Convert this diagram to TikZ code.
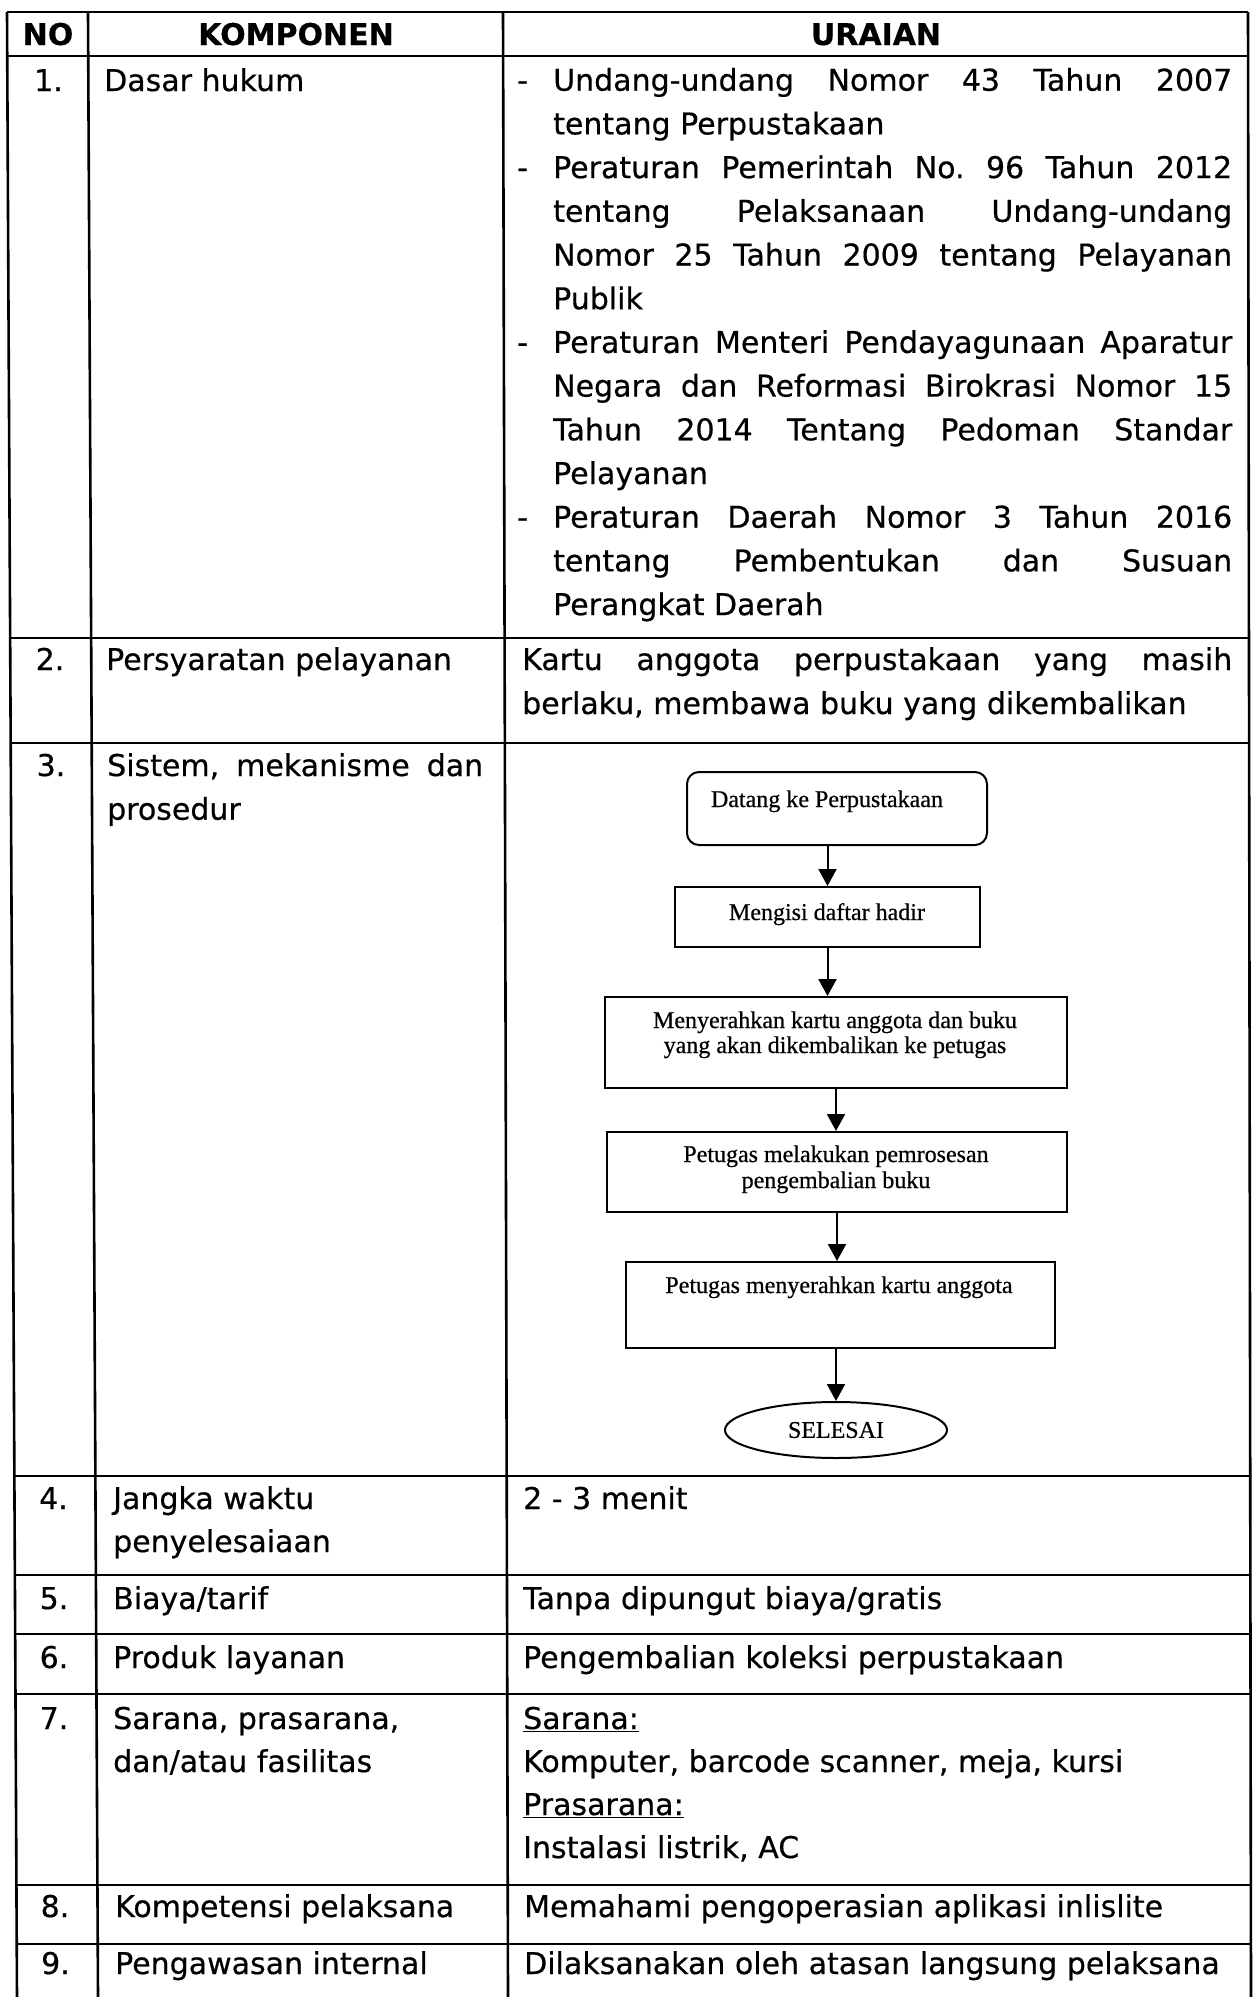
\documentclass[tikz,border=0pt]{standalone}
\usepackage{fontspec}
\setmainfont{DejaVu Sans}[FakeBold=0.5]
\newfontfamily\flowfont{Liberation Serif}[FakeBold=0.6]
\usetikzlibrary{arrows.meta,shapes.geometric,calc}

\newcommand{\cellfont}{\fontsize{30pt}{43.7pt}\selectfont}
\newcommand{\fillline}[1]{\makebox[679pt][s]{#1}}
\frenchspacing

\begin{document}
\begin{tikzpicture}[x=1pt, y=-1pt,
  tabline/.style={line width=2.6pt},
  txt/.style={inner sep=0pt, anchor=base west, font=\cellfont},
  num/.style={inner sep=0pt, anchor=base, font=\cellfont},
  hd/.style={inner sep=0pt, anchor=base, font=\cellfont\bfseries},
  flowbox/.style={draw, line width=2pt, inner sep=0pt},
  ftxt/.style={inner sep=0pt, anchor=base, font=\flowfont\fontsize{24pt}{26pt}\selectfont},
  arr/.style={line width=2pt, -{Triangle[width=18pt,length=17pt]}}]
  \useasboundingbox (0,0) rectangle (1258,1997);
  %table frame
  \coordinate (tl) at (7,12);
  \coordinate (bl) at (17,1997);
  \coordinate (c1t) at (88,12);
  \coordinate (c1b) at (98,1997);
  \coordinate (c2t) at (503,12);
  \coordinate (c2b) at (508,1997);
  \coordinate (tr) at (1248,12);
  \coordinate (br) at (1251,1997);
  \draw[tabline] (tl) -- (bl);
  \draw[tabline] (c1t) -- (c1b);
  \draw[tabline] (c2t) -- (c2b);
  \draw[tabline] (tr) -- (br);
  \foreach \y in {12,56,638,743,1476,1575,1634,1694,1885,1944}
  \draw[tabline] ($(tl)!{(\y-12)/1985}!(bl)$) -- ($(tr)!{(\y-12)/1985}!(br)$);
  %header
  \node[hd] (hno) at (48,45) {NO};
  \node[hd] (hkomp) at (296,45) {KOMPONEN};
  \node[hd] (hurai) at (876,45) {URAIAN};
  %row 1
  \node[num] (n1) at (48.5,91) {1.};
  \node[txt] (k1) at (104,91) {Dasar hukum};
  \foreach \i in {0,2,6,10}
  \node[txt] (d\i) at (517,90.7+43.7*\i) {-};
  \foreach \t [count=\i from 0] in {
    {\fillline{Undang-undang Nomor 43 Tahun 2007}},
    {tentang Perpustakaan},
    {\fillline{Peraturan Pemerintah No. 96 Tahun 2012}},
    {\fillline{tentang Pelaksanaan Undang-undang}},
    {\fillline{Nomor 25 Tahun 2009 tentang Pelayanan}},
    {Publik},
    {\fillline{Peraturan Menteri Pendayagunaan Aparatur}},
    {\fillline{Negara dan Reformasi Birokrasi Nomor 15}},
    {\fillline{Tahun 2014 Tentang Pedoman Standar}},
    {Pelayanan},
    {\fillline{Peraturan Daerah Nomor 3 Tahun 2016}},
    {\fillline{tentang Pembentukan dan Susuan}},
    {Perangkat Daerah}}
  \node[txt] (u\i) at (553,90.7+43.7*\i) {\t};
  %row 2
  \node[num] (n2) at (50,670) {2.};
  \node[txt] (k2) at (106,670) {Persyaratan pelayanan};
  \node[txt] (u2a) at (522,670) {\makebox[710pt][s]{Kartu anggota perpustakaan yang masih}};
  \node[txt] (u2b) at (522,714) {berlaku, membawa buku yang dikembalikan};
  %row 3
  \node[num] (n3) at (51,776) {3.};
  \node[txt] (k3a) at (107,776) {\makebox[376pt][s]{Sistem, mekanisme dan}};
  \node[txt] (k3b) at (107,819.7) {prosedur};
  %flowchart
  \node[flowbox, rounded corners=12pt, minimum width=300pt, minimum height=73pt] (b1) at (837,808.5) {};
  \node[flowbox, minimum width=305pt, minimum height=60pt] (b2) at (827.5,917) {};
  \node[flowbox, minimum width=462pt, minimum height=91pt] (b3) at (836,1042.5) {};
  \node[flowbox, minimum width=460pt, minimum height=80pt] (b4) at (837,1172) {};
  \node[flowbox, minimum width=429pt, minimum height=86pt] (b5) at (840.5,1305) {};
  \node[flowbox, ellipse, minimum width=222pt, minimum height=56pt,
    font=\flowfont\fontsize{24pt}{26pt}\selectfont] (sel) at (836,1430) {SELESAI};
  \node[ftxt] (t1) at (827,807) {Datang ke Perpustakaan};
  \node[ftxt] (t2) at (827,920) {Mengisi daftar hadir};
  \node[ftxt] (t3a) at (835,1028) {Menyerahkan kartu anggota dan buku};
  \node[ftxt] (t3b) at (835,1053) {yang akan dikembalikan ke petugas};
  \node[ftxt] (t4a) at (836,1162) {Petugas melakukan pemrosesan};
  \node[ftxt] (t4b) at (836,1188) {pengembalian buku};
  \node[ftxt] (t5) at (839,1293) {Petugas menyerahkan kartu anggota};
  \draw[arr] (b1.south -| b2.north) -- (b2.north);
  \draw[arr] (b2.south) -- (b2.south |- b3.north);
  \draw[arr] (b3.south) -- (b3.south |- b4.north);
  \draw[arr] (b4.south) -- (b4.south |- b5.north);
  \draw[arr] (b5.south -| sel.north) -- (sel.north);
  %rows 4-9
  \node[num] (n4) at (53.5,1509) {4.};
  \node[txt] (k4a) at (113,1509) {Jangka waktu};
  \node[txt] (k4b) at (113,1552) {penyelesaiaan};
  \node[txt] (u4) at (523,1509) {2 - 3 menit};
  \node[num] (n5) at (54,1609) {5.};
  \node[txt] (k5) at (113,1609) {Biaya/tarif};
  \node[txt] (u5) at (523,1609) {Tanpa dipungut biaya/gratis};
  \node[num] (n6) at (54,1668) {6.};
  \node[txt] (k6) at (113,1668) {Produk layanan};
  \node[txt] (u6) at (523,1668) {Pengembalian koleksi perpustakaan};
  \node[num] (n7) at (54,1729) {7.};
  \node[txt] (k7a) at (113,1729) {Sarana, prasarana,};
  \node[txt] (k7b) at (113,1772) {dan/atau fasilitas};
  \node[txt] (u7a) at (523,1729) {\underline{Sarana:}};
  \node[txt] (u7b) at (523,1772) {Komputer, barcode scanner, meja, kursi};
  \node[txt] (u7c) at (523,1815) {\underline{Prasarana:}};
  \node[txt] (u7d) at (523,1858) {Instalasi listrik, AC};
  \node[num] (n8) at (55,1917) {8.};
  \node[txt] (k8) at (115,1917) {Kompetensi pelaksana};
  \node[txt] (u8) at (524,1917) {Memahami pengoperasian aplikasi inlislite};
  \node[num] (n9) at (55.5,1974) {9.};
  \node[txt] (k9) at (115,1974) {Pengawasan internal};
  \node[txt] (u9) at (524,1974) {Dilaksanakan oleh atasan langsung pelaksana};
\end{tikzpicture}
\end{document}
